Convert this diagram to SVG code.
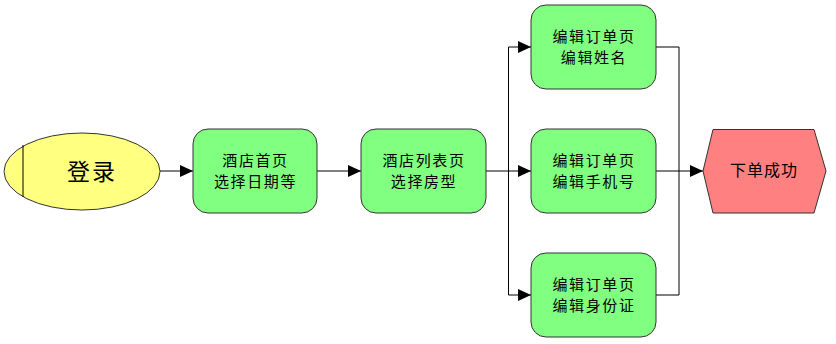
<svg xmlns="http://www.w3.org/2000/svg" width="836" height="344" viewBox="0 0 836 344">
<style>
.box{fill:#80FF80;stroke:#333;stroke-width:1}
.t{font-family:"Noto Sans CJK SC","Liberation Sans",sans-serif;font-size:15px;fill:#000;text-anchor:middle;dominant-baseline:central;letter-spacing:1.6px}
.c{fill:none;stroke:#000;stroke-width:1}
</style>
<defs>
<marker id="ah" viewBox="0 0 13 12" refX="13" refY="6" markerWidth="13" markerHeight="12" markerUnits="userSpaceOnUse" orient="auto">
<path d="M0,0 L13,6 L0,12 Z" fill="#000"/>
</marker>
</defs>
<rect width="836" height="344" fill="#fff"/>
<g id="connectors">
<path class="c" d="M160,171 H193" marker-end="url(#ah)"/>
<path class="c" d="M317,171 H361" marker-end="url(#ah)"/>
<path class="c" d="M486,171 H531" marker-end="url(#ah)"/>
<path class="c" d="M508.5,171 V47 H531" marker-end="url(#ah)"/>
<path class="c" d="M508.5,171 V295 H531" marker-end="url(#ah)"/>
<path class="c" d="M656,47 H679 V171"/>
<path class="c" d="M656,295 H679 V171"/>
<path class="c" d="M656,171 H703" marker-end="url(#ah)"/>
</g>
<g id="login">
<ellipse cx="82" cy="171.5" rx="78" ry="38.5" fill="#FFFF80" stroke="#333"/>
<line x1="23" y1="145" x2="23" y2="197" stroke="#000"/>
<text class="t" x="92" y="170" style="font-size:23px;letter-spacing:2px">登录</text>
</g>
<g id="home">
<rect class="box" x="193" y="129" width="124" height="84" rx="15"/>
<text class="t" x="255.5" y="159.5">酒店首页</text>
<text class="t" x="255.5" y="180.5">选择日期等</text>
</g>
<g id="list">
<rect class="box" x="361" y="129" width="125" height="84" rx="15"/>
<text class="t" x="424" y="159.5">酒店列表页</text>
<text class="t" x="424" y="180.5">选择房型</text>
</g>
<g id="name">
<rect class="box" x="531" y="5" width="125" height="84" rx="15"/>
<text class="t" x="594" y="35.5">编辑订单页</text>
<text class="t" x="594" y="56.5">编辑姓名</text>
</g>
<g id="phone">
<rect class="box" x="531" y="129" width="125" height="84" rx="15"/>
<text class="t" x="594" y="159.5">编辑订单页</text>
<text class="t" x="594" y="180.5">编辑手机号</text>
</g>
<g id="idcard">
<rect class="box" x="531" y="253" width="125" height="84" rx="15"/>
<text class="t" x="594" y="283.5">编辑订单页</text>
<text class="t" x="594" y="304.5">编辑身份证</text>
</g>
<g id="success">
<polygon points="703,171 713,129.5 814,129.5 826,171 814,213 713,213" fill="#FF8080" stroke="#333"/>
<text class="t" x="764" y="169" style="font-size:16px;letter-spacing:1px">下单成功</text>
</g>
</svg>
